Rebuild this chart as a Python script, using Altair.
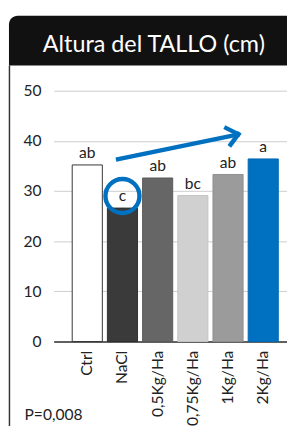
import altair as alt
import pandas as pd

categories = ["Ctrl", "NaCl", "0,5Kg/Ha", "0,75Kg/Ha", "1Kg/Ha", "2Kg/Ha"]
values = [35.2, 26.6, 32.6, 29.1, 33.3, 36.4]
letters = ["ab", "c", "ab", "bc", "ab", "a"]
fill_colors = ["#ffffff", "#3a3a3a", "#666666", "#d0d0d0", "#9b9b9b", "#0070c0"]
stroke_colors = ["#333333", "#2e2e2e", "#5a5a5a", "#c4c4c4", "#8e8e8e", "#0068b4"]
y_ticks = [0, 10, 20, 30, 40, 50]
title_text = "Altura del TALLO (cm)"
p_text = "P=0,008"
circled_cat = ["NaCl"]
circled_y = [29.0]

FONT = "Lato"
BLUE = "#0070c0"

df = pd.DataFrame({"cat": categories, "val": values, "lab": letters})
one = pd.DataFrame({"k": [0]})

xscale = alt.Scale(domain=categories, paddingInner=0.144, paddingOuter=0.387, align=0.68)
yscale = alt.Scale(domain=[0, 50])

x_enc = alt.X("cat:N", scale=xscale, sort=categories,
              axis=alt.Axis(title=None, labelAngle=-90, ticks=False, labelPadding=9,
                            domainColor="#333333", domainWidth=1.5,
                            labelFont=FONT, labelFontSize=16, labelColor="#222222"))
y_enc = alt.Y("val:Q", scale=yscale,
              axis=alt.Axis(title=None, values=y_ticks, domain=False, ticks=False,
                            gridColor="#cccccc", gridWidth=1, labelPadding=13,
                            labelFont=FONT, labelFontSize=16, labelColor="#222222"))

bars = alt.Chart(df).mark_bar(strokeWidth=1).encode(
    x=x_enc, y=y_enc,
    color=alt.Color("cat:N", scale=alt.Scale(domain=categories, range=fill_colors), legend=None),
    stroke=alt.Stroke("cat:N", scale=alt.Scale(domain=categories, range=stroke_colors), legend=None),
)

labels = alt.Chart(df).mark_text(baseline="alphabetic", dy=-7, font=FONT, fontSize=16, color="#222222").encode(
    x=alt.X("cat:N", scale=xscale, sort=categories), y=alt.Y("val:Q", scale=yscale), text="lab:N"
)

circle = alt.Chart(pd.DataFrame({"cat": circled_cat, "val": circled_y})).mark_point(
    shape="circle", filled=False, size=1225, strokeWidth=4.5, color=BLUE, opacity=1
).encode(x=alt.X("cat:N", scale=xscale, sort=categories), y=alt.Y("val:Q", scale=yscale))

header = alt.Chart(one).mark_rect(color="#111111", cornerRadiusTopLeft=9).encode(
    x=alt.value(-46), x2=alt.value(240), y=alt.value(-77), y2=alt.value(-26)
)
border = alt.Chart(one).mark_rule(color="#333333", strokeWidth=1.5).encode(
    x=alt.value(-45.5), y=alt.value(-26), y2=alt.value(345)
)
title = alt.Chart(one).mark_text(text=title_text, font=FONT, fontSize=24, color="white",
                                 align="center", baseline="middle").encode(
    x=alt.value(103), y=alt.value(-47)
)
ptext = alt.Chart(one).mark_text(text=p_text, font=FONT, fontSize=16, color="#222222",
                                 align="left", baseline="alphabetic").encode(
    x=alt.value(-30), y=alt.value(339)
)

shaft = alt.Chart(one).mark_rule(color=BLUE, strokeWidth=4.5).encode(
    x=alt.value(64), y=alt.value(71), x2=alt.value(189), y2=alt.value(45.2)
)
arm1 = alt.Chart(one).mark_rule(color=BLUE, strokeWidth=4.5, strokeCap="square").encode(
    x=alt.value(177.5), y=alt.value(38.5), x2=alt.value(190), y2=alt.value(44.7)
)
arm2 = alt.Chart(one).mark_rule(color=BLUE, strokeWidth=4.5, strokeCap="square").encode(
    x=alt.value(182), y=alt.value(55.5), x2=alt.value(190), y2=alt.value(44.7)
)

chart = alt.layer(header, border, title, bars, labels, circle, shaft, arm1, arm2, ptext).properties(
    width=240, height=258,
    autosize=alt.AutoSizeParams(type="none"),
    padding={"left": 47, "top": 79, "right": 0, "bottom": 87},
).configure_view(strokeWidth=0)

chart.save("out.html", embed_options={"renderer": "svg", "actions": False})
